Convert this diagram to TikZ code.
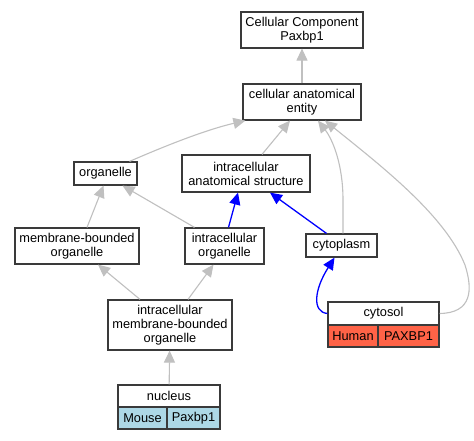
\documentclass[tikz,border=0pt]{standalone}
\usepackage{fontspec}
\setmainfont{Liberation Sans}
\usetikzlibrary{arrows.meta}
\definecolor{boxc}{HTML}{3A3A3A}
\definecolor{edgegray}{HTML}{C0C0C0}
\definecolor{human}{HTML}{FF6347}
\definecolor{mouse}{HTML}{ADD8E6}
\begin{document}
\begin{tikzpicture}[x=1pt,y=-1pt,
  box/.style={draw=boxc, line width=1.2pt, fill=white, inner sep=0pt, align=center,
    font=\fontsize{12.8}{14}\selectfont},
  isa/.style={draw=edgegray, line width=1.1pt, -{Triangle[length=12pt,width=11pt,fill=edgegray]}},
  partof/.style={draw=blue, line width=1.3pt, -{Triangle[length=12pt,width=11pt,fill=blue]}},
]
\useasboundingbox (0,0) rectangle (474,440);
\fill[white] (0,0) rectangle (474,440);

\node[box, minimum width=122, minimum height=36] (cc) at (302,30) {Cellular Component\\Paxbp1};
\node[box, minimum width=118, minimum height=36] (cae) at (302,102) {cellular anatomical\\entity};
\node[box, minimum width=63, minimum height=23] (org) at (105.5,173.5) {organelle};
\node[box, minimum width=128, minimum height=37] (ias) at (246,173.5) {intracellular\\anatomical structure};
\node[box, minimum width=124, minimum height=36] (mbo) at (77,246) {membrane-bounded\\organelle};
\node[box, minimum width=79, minimum height=36] (io) at (224.5,246) {intracellular\\organelle};
\node[box, minimum width=71, minimum height=23] (cyto) at (341.5,245.5) {cytoplasm};
\node[box, minimum width=124, minimum height=50] (imbo) at (170,325) {intracellular\\membrane-bounded\\organelle};
\node[box, minimum width=111, minimum height=23] (cytosol) at (383.5,313.5) {cytosol};
\node[box, fill=human, minimum width=50, minimum height=22] (hum) at (353,336) {Human};
\node[box, fill=human, minimum width=61, minimum height=22] (hgene) at (408.5,336) {PAXBP1};
\node[box, minimum width=102, minimum height=22] (nuc) at (169,396) {nucleus};
\node[box, fill=mouse, minimum width=49, minimum height=22] (mou) at (142.5,418) {Mouse};
\node[box, fill=mouse, minimum width=53, minimum height=22] (mgene) at (193.5,418) {Paxbp1};

% is-a edges
\draw[isa] (cae) -- (cc);
\draw[isa] ([xshift=24]org.north) .. controls (165,146) and (205,130) .. ([xshift=3]cae.south west);
\draw[isa] ([xshift=16]ias.north) -- ([xshift=-12]cae.south);
\draw[isa] ([xshift=1.5]cyto.north) -- (343,200) .. controls (343,165) and (333,140) .. ([xshift=16]cae.south);
\draw[isa] (cytosol.east) .. controls (472,313) and (473,290) .. (465,265)
  .. controls (445,215) and (380,165) .. ([xshift=23]cae.south);
\draw[isa] ([xshift=10]mbo.north) -- ([xshift=-2]org.south);
\draw[isa] ([xshift=-30]io.north) -- ([xshift=17]org.south);
\draw[isa] ([xshift=-30]imbo.north) -- ([xshift=21]mbo.south);
\draw[isa] ([xshift=18]imbo.north) -- ([xshift=-11]io.south);
\draw[isa] (nuc) -- (imbo);

% part-of edges
\draw[partof] ([xshift=4]io.north) -- ([xshift=-8]ias.south);
\draw[partof] ([xshift=-15]cyto.north) -- ([xshift=24]ias.south);
\draw[partof] (cytosol.west) .. controls (312,312) and (314,290) .. ([xshift=-7]cyto.south);
\end{tikzpicture}
\end{document}
